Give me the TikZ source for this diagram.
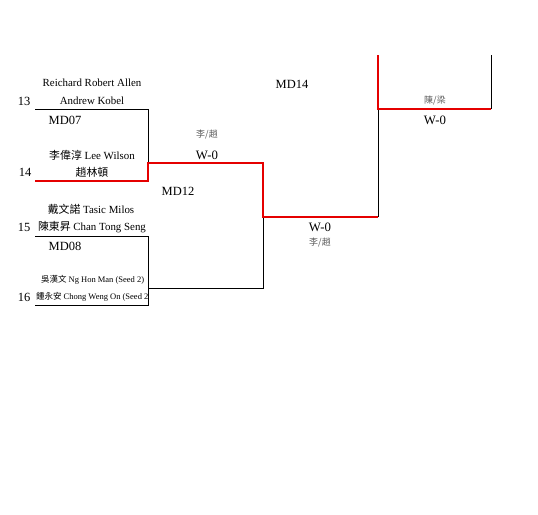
\documentclass[tikz,border=0pt]{standalone}
\usepackage{fontspec}
\setmainfont{Liberation Serif}
\newfontfamily\cjk{Noto Sans CJK TC}
\begin{document}
\begin{tikzpicture}[x=1pt,y=-1pt,
  every node/.style={inner sep=0pt,outer sep=0pt},
  win/.style={draw=red!90!black,line width=1.8pt},
  lose/.style={draw=black,line width=0.9pt},
  pname/.style={font=\fontsize{10.9}{11}\selectfont},
  seednum/.style={font=\fontsize{12.5}{12}\selectfont},
  mlabel/.style={font=\fontsize{12.5}{12}\selectfont},
  wscore/.style={font=\fontsize{12.8}{12}\selectfont},
  wpair/.style={font=\fontsize{9}{9}\selectfont,text=black!65},
  smalltext/.style={font=\fontsize{8.5}{9}\selectfont}]
\useasboundingbox (0,0) rectangle (538,514);
% bracket coordinates
\coordinate (a13) at (35,109);
\coordinate (b13) at (148,109);
\coordinate (a14) at (35,181);
\coordinate (b14) at (148,181);
\coordinate (m07) at (148,163);
\coordinate (n07) at (263,163);
\coordinate (a15) at (35,236);
\coordinate (b15) at (148,236);
\coordinate (a16) at (35,305);
\coordinate (b16) at (148,305);
\coordinate (m08) at (148,288);
\coordinate (n08) at (263,288);
\coordinate (m12) at (263,217);
\coordinate (n12) at (378,217);
\coordinate (m14) at (378,109);
\coordinate (n14) at (491,109);
\coordinate (t1) at (378,55);
\coordinate (t2) at (491,55);
% losing lines
\draw[lose] (a13) -- (b13) -- (m07);
\draw[lose] (a15) -- (b15) -- (b16) -- (a16);
\draw[lose] (m08) -- (n08) -- (m12);
\draw[lose] (n12) -- (m14);
\draw[lose] (n14) -- (t2);
% winning path
\draw[win] (a14) -- (b14) -- (m07) -- (n07) -- (m12) -- (n12);
\draw[win] (t1) -- (m14) -- (n14);
% texts
\node[pname] (p13a) at (92,83) {Reichard Robert Allen};
\node[pname] (p13b) at (92,101) {Andrew Kobel};
\node[seednum] (s13) at (24,101) {13};
\node[mlabel] (md07) at (65,120) {MD07};
\node[pname] (p14a) at (92,155) {{\cjk 李偉淳} Lee Wilson};
\node[pname] (p14b) at (92,172) {{\cjk 趙林頓}};
\node[seednum] (s14) at (25,172) {14};
\node[wpair] (w07p) at (207,135) {{\cjk 李/趙}};
\node[wscore] (w07s) at (207,155) {W-0};
\node[mlabel] (md12) at (178,191) {MD12};
\node[pname] (p15a) at (91,209) {{\cjk 戴文諾} Tasic Milos};
\node[seednum] (s15) at (24,227) {15};
\node[pname,anchor=west] (p15b) at (38,227) {{\cjk 陳東昇} Chan Tong Seng};
\node[mlabel] (md08) at (65,246) {MD08};
\node[smalltext,anchor=west] (p16a) at (41,280) {{\cjk 吳漢文} Ng Hon Man (Seed 2)};
\node[seednum] (s16) at (24,297) {16};
\begin{scope}
\clip (30,285) rectangle (148,310);
\node[smalltext,anchor=west] (p16b) at (36,297) {{\cjk 鍾永安} Chong Weng On (Seed 2)};
\end{scope}
\node[wscore] (w12s) at (320,227) {W-0};
\node[wpair] (w12p) at (320,243) {{\cjk 李/趙}};
\node[mlabel] (md14) at (292,84) {MD14};
\node[wpair] (w14p) at (435,101) {{\cjk 陳/梁}};
\node[wscore] (w14s) at (435,120) {W-0};
\end{tikzpicture}
\end{document}
